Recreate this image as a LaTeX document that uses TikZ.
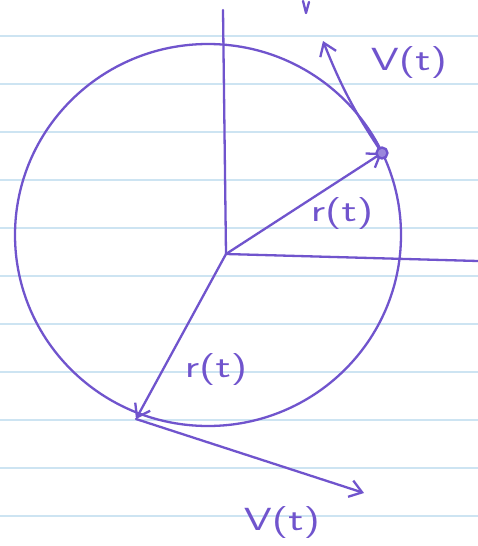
\documentclass[tikz,border=0pt]{standalone}
\usepackage{tikz}
\usepackage{xcolor}
\usetikzlibrary{arrows.meta}
\definecolor{pen}{RGB}{112,84,205}
\definecolor{rule}{RGB}{205,228,242}
\tikzset{
  ink/.style={draw=pen,line width=2.3pt,line cap=round,line join=round},
  hand/.style={text=pen,font=\sffamily\fontsize{32}{36}\selectfont,inner sep=0pt}
}
\newcommand{\handtext}[1]{\scalebox{1.4}[1]{#1}}

\begin{document}
\begin{tikzpicture}[x=1pt,y=-1pt,>={Straight Barb[length=12pt,width=17pt,line width=2.3pt]}]
\useasboundingbox[fill=white] (0,0) rectangle (478,546);
% ruled paper
\foreach \y in {36,84,...,516}
  \draw[rule,line width=1.4pt] (0,\y) -- (478,\y);
% axes and circle
\coordinate (O) at (226,254);
\coordinate (yend) at (223,10);
\coordinate (xend) at (478,261);
\draw[ink] (yend) -- (O) -- (xend);
\draw[ink] (208,235) ellipse[x radius=193,y radius=191];
% stray mark at the top
\draw[ink] (303,1) -- (306,13) -- (309,2);
% upper point
\coordinate (P) at (382,153);
\coordinate (Ptip) at (323,41);
\draw[ink,->] (O) -- (P);
\draw[ink,->] (P) to[bend left=6] (Ptip);
\filldraw[ink,fill=pen!70] (P) circle (5.5);
\node[hand] (rup) at (342,214) {\handtext{r(t)}};
\node[hand] (vup) at (409,63) {\handtext{V(t)}};
% lower point
\coordinate (Q) at (136,419);
\coordinate (Qtip) at (364,493);
\draw[ink,->] (O) -- (Q);
\draw[ink,->] (Q) -- (Qtip);
\node[hand] (rlow) at (216,370) {\handtext{r(t)}};
\node[hand] (vlow) at (282,523) {\handtext{V(t)}};
\end{tikzpicture}
\end{document}
